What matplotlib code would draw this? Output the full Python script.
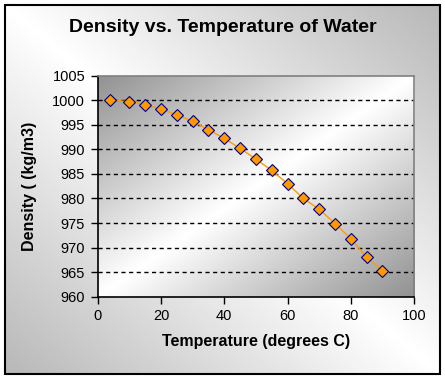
import numpy as np
import matplotlib
matplotlib.use('Agg')
import matplotlib.pyplot as plt
from matplotlib.patches import Rectangle

plt.rcParams['font.family'] = ['Liberation Sans', 'DejaVu Sans']

# temperature (C) and density (kg/m3)
temperature = [4, 10, 15, 20, 25, 30, 35, 40, 45, 50, 55, 60, 65, 70, 75, 80, 85, 90]
density = [1000.0, 999.7, 999.1, 998.2, 997.0, 995.7, 994.0, 992.2, 990.2, 988.0,
           985.7, 983.0, 980.0, 977.8, 974.9, 971.8, 968.1, 965.3]
x_ticks = [0, 20, 40, 60, 80, 100]
y_ticks = [960, 965, 970, 975, 980, 985, 990, 995, 1000, 1005]


def band(n, gray, flip):
    # gray -> white -> gray along a diagonal
    u = np.linspace(0, 1, n)
    xx, yy = np.meshgrid(u, u)
    t = (xx + (1 - yy)) / 2 if flip else (xx + yy) / 2
    w = 1 - np.abs(t - 0.5) * 2
    return gray + (1 - gray) * w


fig = plt.figure(figsize=(4.45, 3.78), dpi=100)
fig.patch.set_facecolor('white')

# chart area background, inside the black frame
x0, y0, x1, y1 = 5 / 445, 4 / 378, 440 / 445, 373 / 378
bg = fig.add_axes([x0, y0, x1 - x0, y1 - y0], zorder=-10)
bg.imshow(band(200, 0.72, False), cmap='gray', vmin=0, vmax=1, origin='lower',
          extent=[0, 1, 0, 1], aspect='auto')
bg.axis('off')
fig.patches.append(Rectangle((x0, y0), x1 - x0, y1 - y0, fill=False,
                             edgecolor='black', linewidth=1.5, transform=fig.transFigure))

ax = fig.add_axes([0.2196, 0.215, 0.711, 0.585])
ax.imshow(band(200, 0.57, True), cmap='gray', vmin=0, vmax=1, origin='lower',
          extent=[0, 100, 960, 1005], aspect='auto', zorder=0)

for y in y_ticks[1:-1]:
    ax.axhline(y, color='black', linewidth=1, linestyle=(0, (3, 2.5)), zorder=1)

ax.plot(temperature, density, color='#FF9900', linewidth=1, marker='D',
        markersize=6, markerfacecolor='#FF9900', markeredgecolor='#000080',
        markeredgewidth=0.8, zorder=3)

ax.set_xlim(0, 100)
ax.set_ylim(960, 1005)
ax.set_xticks(x_ticks)
ax.set_yticks(y_ticks)
ax.tick_params(direction='out', length=5, width=1, labelsize=10.5, colors='black', pad=4)
for s in ['left', 'bottom']:
    ax.spines[s].set_color('black')
    ax.spines[s].set_linewidth(1.2)
for s in ['top', 'right']:
    ax.spines[s].set_color('#808080')
    ax.spines[s].set_linewidth(1.2)

ax.set_xlabel('Temperature (degrees C)', fontsize=11.5, fontweight='bold', labelpad=8)
ax.set_ylabel('Density ( (kg/m3)', fontsize=11.5, fontweight='bold', labelpad=11)
fig.text(0.5, 1 - 28 / 378, 'Density vs. Temperature of Water', ha='center', va='center',
         fontsize=14, fontweight='bold')

fig.savefig('out.png', dpi=100)
